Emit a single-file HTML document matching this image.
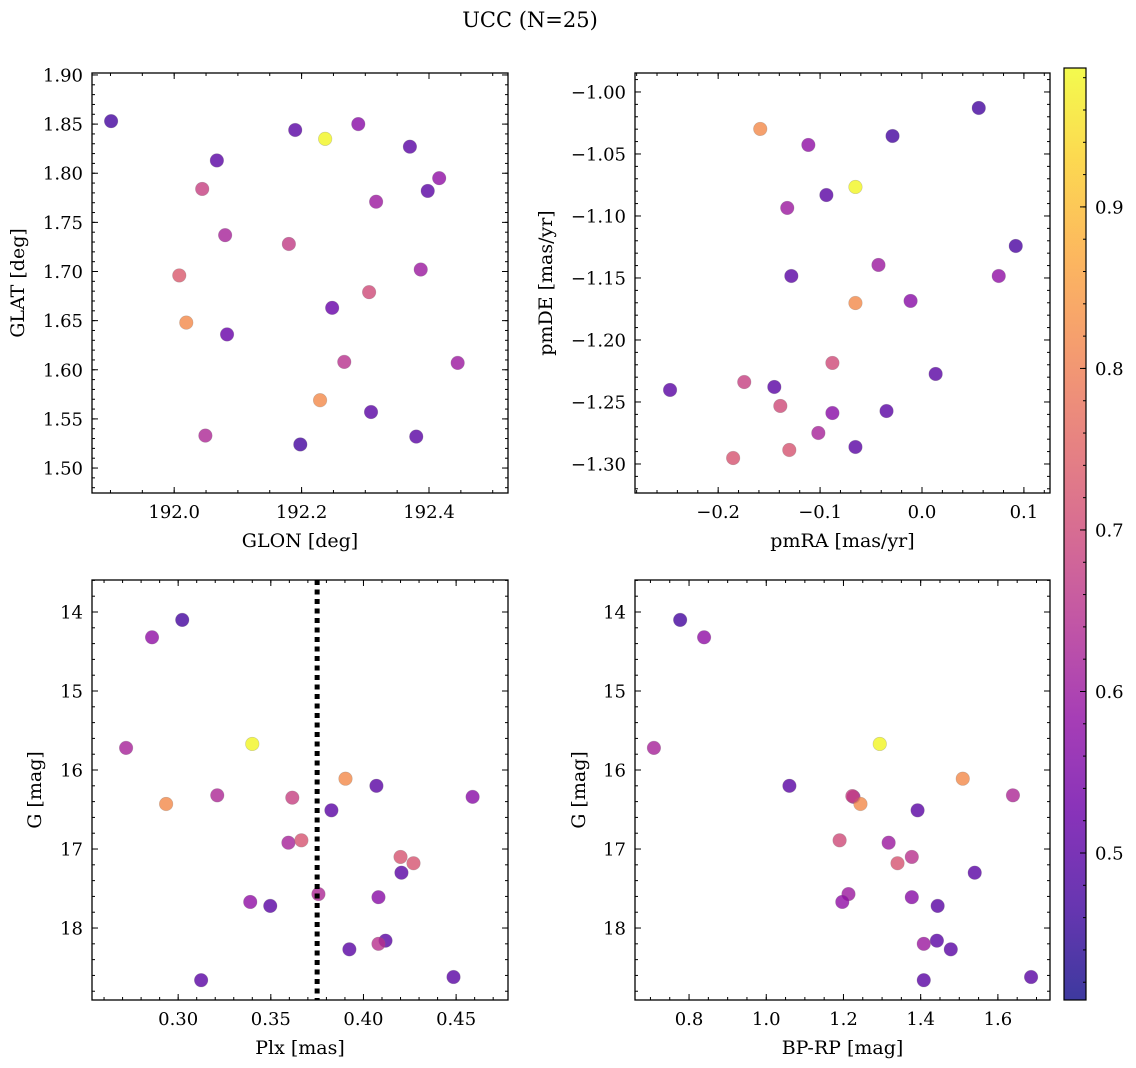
<!DOCTYPE html>
<html><head><meta charset="utf-8"><style>
html,body{margin:0;padding:0;background:#fff;}
svg{display:block;font-family:"DejaVu Serif","Liberation Serif",serif;}
</style></head><body>
<svg id="fig" width="1136" height="1068" viewBox="0 0 1136 1068" xmlns="http://www.w3.org/2000/svg">
<text x="530" y="27" font-size="21" text-anchor="middle">UCC (N=25)</text>
<defs><linearGradient id="cmapgrad" x1="0" y1="1" x2="0" y2="0"></linearGradient></defs>
</svg>
<script>
// ---- data ----
const glon=[191.901,192.190,192.237,192.289,192.067,192.370,192.044,192.416,192.398,192.317,192.080,192.180,192.008,192.387,192.306,192.019,192.248,192.083,192.267,192.445,192.229,192.309,192.049,192.380,192.198];
const glat=[1.853,1.844,1.835,1.850,1.813,1.827,1.784,1.795,1.782,1.771,1.737,1.728,1.696,1.702,1.679,1.648,1.663,1.636,1.608,1.607,1.569,1.557,1.533,1.532,1.524];
const probP1=[0.47,0.5,0.98,0.57,0.5,0.5,0.68,0.58,0.5,0.6,0.62,0.67,0.73,0.6,0.7,0.82,0.52,0.52,0.65,0.6,0.82,0.5,0.63,0.5,0.47];
const pmra=[0.0557,-0.1587,-0.0289,-0.1115,-0.0653,-0.0938,-0.1322,0.0920,-0.1282,-0.0427,0.0753,-0.0653,-0.0112,-0.0879,-0.1744,0.0134,-0.2472,-0.1449,-0.1390,-0.0879,-0.0348,-0.1017,-0.1302,-0.0653,-0.1853];
const pmde=[-1.0129,-1.0298,-1.0355,-1.0427,-1.0766,-1.0831,-1.0935,-1.1242,-1.1484,-1.1395,-1.1484,-1.1702,-1.1685,-1.2185,-1.2339,-1.2274,-1.2403,-1.2379,-1.2532,-1.2589,-1.2573,-1.2750,-1.2887,-1.2863,-1.2952];
const probP2=[0.47,0.82,0.47,0.58,0.98,0.5,0.6,0.48,0.5,0.6,0.58,0.82,0.57,0.7,0.68,0.5,0.5,0.5,0.7,0.57,0.5,0.62,0.72,0.5,0.72];
const plx=[0.2859,0.3022,0.2719,0.3400,0.3211,0.2935,0.3616,0.3903,0.4070,0.3827,0.4589,0.3595,0.3665,0.4200,0.4270,0.4205,0.3757,0.4081,0.3389,0.3497,0.4119,0.4081,0.3924,0.3124,0.4486];
const gP3=[14.32,14.10,15.72,15.67,16.32,16.43,16.35,16.11,16.20,16.51,16.34,16.92,16.89,17.10,17.18,17.30,17.57,17.61,17.67,17.72,18.16,18.20,18.27,18.66,18.62];
const probP3=[0.58,0.47,0.62,0.98,0.63,0.82,0.68,0.82,0.5,0.5,0.57,0.62,0.72,0.72,0.72,0.5,0.63,0.57,0.58,0.5,0.5,0.65,0.5,0.5,0.5];
const bprp=[0.777,0.839,0.709,1.294,1.060,1.226,1.244,1.509,1.639,1.392,1.190,1.317,1.340,1.377,1.540,1.213,1.377,1.197,1.444,1.442,1.408,1.478,1.408,1.686,1.223];
const gP4=[14.10,14.32,15.72,15.67,16.20,16.34,16.43,16.11,16.32,16.51,16.89,16.92,17.18,17.10,17.30,17.57,17.61,17.67,17.72,18.16,18.20,18.27,18.66,18.62,16.33];
const probP4=[0.47,0.58,0.62,0.98,0.5,0.6,0.82,0.82,0.63,0.5,0.7,0.6,0.72,0.65,0.5,0.6,0.57,0.58,0.5,0.5,0.6,0.5,0.5,0.5,0.68];
const plxMedian=0.375;
const cbarTicks=[0.5,0.6,0.7,0.8,0.9];
const cmin=0.409, cmax=0.986;

const NS="http://www.w3.org/2000/svg";
const svg=document.getElementById('fig');
const TFS=18, LFS=19;
function mk(tag,attrs,parent){const e=document.createElementNS(NS,tag);for(const k in attrs)e.setAttribute(k,attrs[k]);(parent||svg).appendChild(e);return e;}
const stops=["#0d0887","#41049d","#6a00a8","#8f0da4","#b12a90","#cc4778","#e16462","#f2844b","#fca636","#fcce25","#f0f921"];
function hex(h){return [1,3,5].map(i=>parseInt(h.substr(i,2),16));}
function plasma(t){t=Math.max(0,Math.min(1,t));const f=t*10,i=Math.min(9,Math.floor(f)),u=f-i;const a=hex(stops[i]),b=hex(stops[i+1]);return 'rgb('+a.map((v,k)=>Math.round(v+(b[k]-v)*u)).join(',')+')';}
function cnorm(v){return (v-cmin)/(cmax-cmin);}

function fmt(v,d){let s=v.toFixed(d);if(v<-1e-9)s='\u2212'+s.slice(1);if(Math.abs(v)<1e-9)s=(0).toFixed(d);return s;}

function panel(cfg){
  const g=mk('g',{});
  
  
  const {L,R,T,B}=cfg;
  const sx=v=>L+(v-cfg.xlim[0])/(cfg.xlim[1]-cfg.xlim[0])*(R-L);
  const sy=cfg.invert? v=>T+(v-cfg.ylim[0])/(cfg.ylim[1]-cfg.ylim[0])*(B-T) : v=>B-(v-cfg.ylim[0])/(cfg.ylim[1]-cfg.ylim[0])*(B-T);
  const pg=mk('g',{},g);
  
  
  for(let i=0;i<cfg.xs.length;i++){
    const c=mk('circle',{cx:sx(cfg.xs[i]),cy:sy(cfg.ys[i]),r:6.8,fill:plasma(cnorm(cfg.cs[i])),'fill-opacity':0.8,stroke:'#777','stroke-opacity':0.35,'stroke-width':0.6},pg);
    
    
  }
  if(cfg.vline!==undefined){
    const l=mk('line',{x1:sx(cfg.vline),x2:sx(cfg.vline),y1:T,y2:B,stroke:'#000','stroke-width':5,'stroke-dasharray':'5,4.5'},g);
    
    
  }
  const tk=mk('g',{stroke:'#000','stroke-width':1},g);
  
  
  function range(lo,hi,step){const a=[];const s=Math.ceil(lo/step-1e-6);for(let k=s;k*step<=hi+1e-9;k++)a.push(+(k*step).toFixed(6));return a;}
  range(cfg.xlim[0],cfg.xlim[1],cfg.xminor).forEach(v=>{const x=sx(v);mk('line',{x1:x,x2:x,y1:B,y2:B-3},tk);mk('line',{x1:x,x2:x,y1:T,y2:T+3},tk);});
  const ylo=Math.min(...cfg.ylim),yhi=Math.max(...cfg.ylim);
  range(ylo,yhi,cfg.yminor).forEach(v=>{const y=sy(v);mk('line',{x1:L,x2:L+3,y1:y,y2:y},tk);mk('line',{x1:R,x2:R-3,y1:y,y2:y},tk);});
  cfg.xticks.forEach(v=>{const x=sx(v);mk('line',{x1:x,x2:x,y1:B,y2:B-6},tk);mk('line',{x1:x,x2:x,y1:T,y2:T+6},tk);
    const t=mk('text',{x:x,y:B+25,'font-size':TFS,'text-anchor':'middle'},g);t.textContent=fmt(v,cfg.xdec);
    
    });
  cfg.yticks.forEach(v=>{const y=sy(v);mk('line',{x1:L,x2:L+6,y1:y,y2:y},tk);mk('line',{x1:R,x2:R-6,y1:y,y2:y},tk);
    const t=mk('text',{x:L-9,y:y+6.5,'font-size':TFS,'text-anchor':'end'},g);t.textContent=fmt(v,cfg.ydec);
    
    });
  const fr=mk('rect',{x:L,y:T,width:R-L,height:B-T,fill:'none',stroke:'#000','stroke-width':1.3},g);
  
  
  const xl=mk('text',{x:(L+R)/2,y:B+54,'font-size':LFS,'text-anchor':'middle'},g);xl.textContent=cfg.xlabel;
  
  
  const yl=mk('text',{x:cfg.ylx,y:(T+B)/2,'font-size':LFS,'text-anchor':'middle',transform:'rotate(-90 '+cfg.ylx+' '+(T+B)/2+')'},g);yl.textContent=cfg.ylabel;
  
  
}

panel({name:'glon-glat-panel',L:92,R:508,T:73,B:493,xlim:[191.871,192.524],ylim:[1.4746,1.902],xs:glon,ys:glat,cs:probP1,
  xticks:[192.0,192.2,192.4],xminor:0.05,xdec:1,yticks:[1.50,1.55,1.60,1.65,1.70,1.75,1.80,1.85,1.90],yminor:0.01,ydec:2,xlabel:'GLON [deg]',ylabel:'GLAT [deg]',ylx:24});
panel({name:'pm-panel',L:635,R:1050,T:73,B:493,xlim:[-0.2816,0.1256],ylim:[-1.3234,-0.9847],xs:pmra,ys:pmde,cs:probP2,
  xticks:[-0.2,-0.1,0.0,0.1],xminor:0.02,xdec:1,yticks:[-1.30,-1.25,-1.20,-1.15,-1.10,-1.05,-1.00],yminor:0.01,ydec:2,xlabel:'pmRA [mas/yr]',ylabel:'pmDE [mas/yr]',ylx:552});
panel({name:'plx-g-panel',L:92,R:508,T:580,B:1000,xlim:[0.2535,0.478],ylim:[13.595,18.911],invert:true,xs:plx,ys:gP3,cs:probP3,vline:plxMedian,
  xticks:[0.30,0.35,0.40,0.45],xminor:0.01,xdec:2,yticks:[14,15,16,17,18],yminor:0.2,ydec:0,xlabel:'Plx [mas]',ylabel:'G [mag]',ylx:41});
panel({name:'cmd-panel',L:635,R:1050,T:580,B:1000,xlim:[0.66,1.735],ylim:[13.595,18.911],invert:true,xs:bprp,ys:gP4,cs:probP4,
  xticks:[0.8,1.0,1.2,1.4,1.6],xminor:0.05,xdec:1,yticks:[14,15,16,17,18],yminor:0.2,ydec:0,xlabel:'BP-RP [mag]',ylabel:'G [mag]',ylx:585});

const grad=document.getElementById('cmapgrad');
for(let i=0;i<=20;i++){mk('stop',{offset:(i/20),'stop-color':plasma(i/20)},grad);}
const cb=mk('g',{});


const CT=68,CB=1000,CL=1064,CR=1086;
mk('rect',{x:CL,y:CT,width:CR-CL,height:CB-CT,fill:'url(#cmapgrad)','fill-opacity':0.8},cb);
mk('rect',{x:CL,y:CT,width:CR-CL,height:CB-CT,fill:'none',stroke:'#000','stroke-width':1.2},cb);
const cy=v=>CB-(v-cmin)/(cmax-cmin)*(CB-CT);
for(let v=0.42;v<=cmax;v+=0.02){const y=cy(v);mk('line',{x1:CR,x2:CR-3,y1:y,y2:y,stroke:'#000'},cb);}
cbarTicks.forEach(v=>{const y=cy(v);mk('line',{x1:CR,x2:CR-6,y1:y,y2:y,stroke:'#000'},cb);
  const t=mk('text',{x:CR+9,y:y+6.5,'font-size':TFS},cb);t.textContent=v.toFixed(1);
  
  });
</script>
</body></html>
